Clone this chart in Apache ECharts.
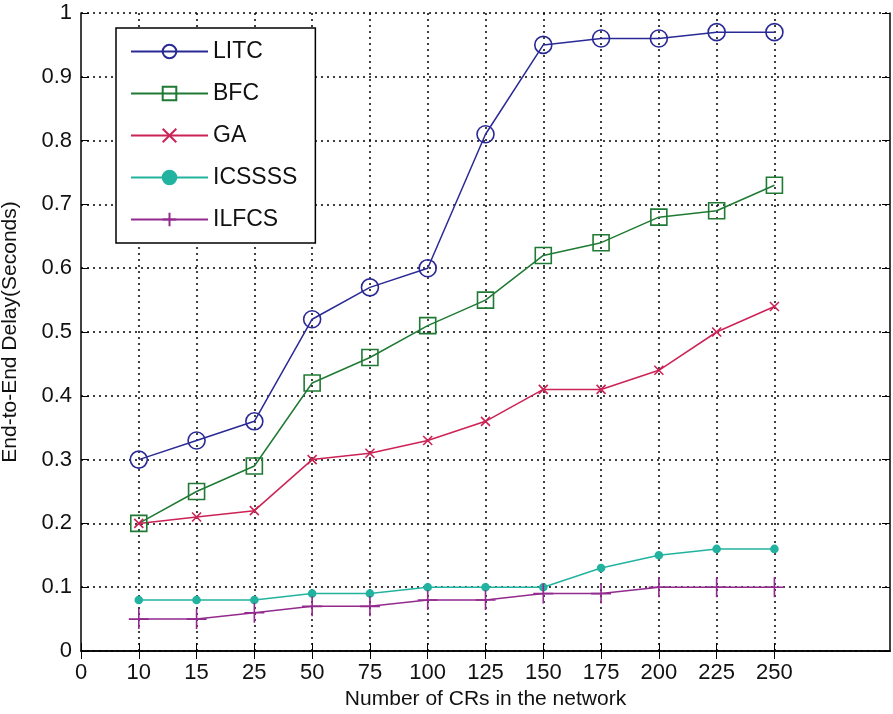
<!DOCTYPE html>
<html>
<head>
<meta charset="utf-8">
<script src="https://cdn.jsdelivr.net/npm/echarts@6/dist/echarts.min.js"></script>
<style>html,body{margin:0;padding:0;background:#fff;}#c{width:893px;height:714px;}</style>
</head>
<body>
<div id="c"></div>
<script>
var xTickLabels = ['0','10','15','25','50','75','100','125','150','175','200','225','250'];
var xPad = ['', ' '];
var xData = ['10','15','25','50','75','100','125','150','175','200','225','250'];
var LITC   = [0.30,0.33,0.36,0.52,0.57,0.60,0.81,0.95,0.96,0.96,0.97,0.97];
var BFC    = [0.20,0.25,0.29,0.42,0.46,0.51,0.55,0.62,0.64,0.68,0.69,0.73];
var GA     = [0.20,0.21,0.22,0.30,0.31,0.33,0.36,0.41,0.41,0.44,0.50,0.54];
var ICSSSS = [0.08,0.08,0.08,0.09,0.09,0.10,0.10,0.10,0.13,0.15,0.16,0.16];
var ILFCS  = [0.05,0.05,0.06,0.07,0.07,0.08,0.08,0.09,0.09,0.10,0.10,0.10];

var FONT = 'Liberation Sans, Arial, sans-serif';
var categories = xTickLabels.concat(xPad);
var nTicks = xTickLabels.length;

function pairs(v){ return xData.map(function(x,i){ return [x, v[i]]; }); }

function mk(name, vals, color, symbol, size, filled){
  return {
    name: name, type: 'line', data: pairs(vals),
    symbol: symbol, symbolSize: size,
    lineStyle: {color: color, width: 1.5},
    itemStyle: {color: filled ? color : 'rgba(255,255,255,0)', borderColor: color, borderWidth: 1.6},
    emphasis: {disabled: true},
    z: 5
  };
}

var chart = echarts.init(document.getElementById('c'));
chart.setOption({
  animation: false,
  backgroundColor: '#fff',
  grid: {left: 81, right: 3, top: 13, bottom: 63, outerBoundsMode: 'none', containLabel: false},
  legend: {
    orient: 'vertical', left: 116, top: 28,
    padding: [12, 18, 12, 14], itemGap: 19, itemWidth: 77, itemHeight: 17,
    backgroundColor: '#fff', borderColor: '#000', borderWidth: 1.5,
    textStyle: {fontFamily: FONT, fontSize: 23, color: '#111'},
    data: ['LITC','BFC','GA','ICSSSS','ILFCS']
  },
  xAxis: [{
    type: 'category', data: categories, boundaryGap: false,
    name: 'Number of CRs in the network', nameLocation: 'middle', nameGap: 26,
    nameTextStyle: {fontFamily: FONT, fontSize: 21, color: '#111'},
    axisLine: {lineStyle: {color: '#000', width: 1.5}},
    axisTick: {inside: true, length: 8, lineStyle: {color: '#000'}, interval: function(i){ return i < nTicks; }},
    axisLabel: {fontFamily: FONT, fontSize: 22, color: '#111', margin: 11, interval: function(i){ return i < nTicks; }},
    splitLine: {show: true, interval: function(i){ return i >= 1 && i < nTicks; }, lineStyle: {color: '#000', type: [2,4], width: 1.5}}
  },{
    type: 'category', data: categories, boundaryGap: false, position: 'top',
    axisLine: {lineStyle: {color: '#000', width: 1.5}},
    axisTick: {inside: true, length: 8, lineStyle: {color: '#000'}, interval: function(i){ return i < nTicks; }},
    axisLabel: {show: false}, splitLine: {show: false}
  }],
  yAxis: [{
    type: 'value', min: 0, max: 1, interval: 0.1,
    name: 'End-to-End Delay(Seconds)', nameLocation: 'middle', nameGap: 60,
    nameTextStyle: {fontFamily: FONT, fontSize: 21, color: '#111'},
    axisLine: {show: true, lineStyle: {color: '#000', width: 1.5}},
    axisTick: {show: true, inside: true, length: 8, lineStyle: {color: '#000'}},
    axisLabel: {fontFamily: FONT, fontSize: 22, color: '#111', margin: 9},
    splitLine: {show: true, lineStyle: {color: '#000', type: [2,4], width: 1.5}}
  },{
    type: 'value', min: 0, max: 1, interval: 0.1, position: 'right',
    axisLine: {show: true, lineStyle: {color: '#000', width: 1.5}},
    axisTick: {show: true, inside: true, length: 8, lineStyle: {color: '#000'}},
    axisLabel: {show: false}, splitLine: {show: false}
  }],
  series: [
    mk('LITC', LITC, '#2a2a96', 'circle', 17, false),
    mk('BFC', BFC, '#1f7a33', 'rect', 16, false),
    mk('GA', GA, '#cc2255', 'path://M0,0L10,10M10,0L0,10', 9, false),
    mk('ICSSSS', ICSSSS, '#22b3a0', 'circle', 7, true),
    mk('ILFCS', ILFCS, '#932a8e', 'path://M5,0L5,10M0,5L10,5', 20, false)
  ]
});
</script>
</body>
</html>
